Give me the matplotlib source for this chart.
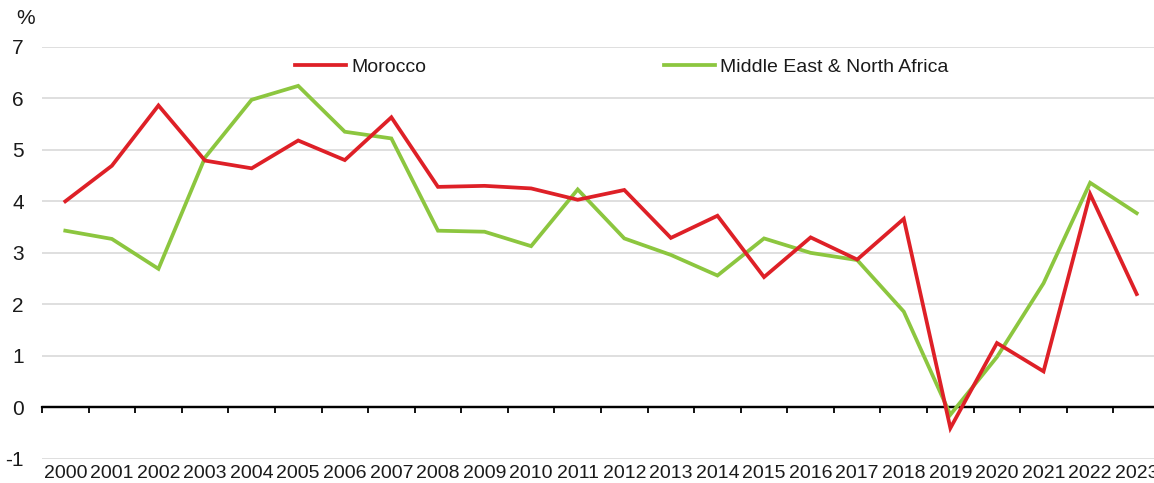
import matplotlib
matplotlib.use("Agg")
import matplotlib.pyplot as plt
import numpy as np

years = [str(y) for y in range(2000, 2024)]
morocco = [4.00, 4.69, 5.86, 4.79, 4.64, 5.18, 4.80, 5.63, 4.28, 4.30, 4.25, 4.03,
           4.22, 3.29, 3.72, 2.53, 3.30, 2.87, 3.66, -0.40, 1.25, 0.70, 4.14, 2.20]
mena = [3.43, 3.27, 2.69, 4.85, 5.97, 6.24, 5.35, 5.22, 3.43, 3.41, 3.13, 4.23,
        3.28, 2.96, 2.56, 3.28, 3.00, 2.86, 1.86, -0.14, 0.98, 2.41, 4.36, 3.77]
yticks = [-1, 0, 1, 2, 3, 4, 5, 6, 7]
series_names = ["Morocco", "Middle East & North Africa"]

plt.rcParams['font.family'] = ['Liberation Sans', 'DejaVu Sans']
txt = '#1a1a1a'
fs = 14
fsy = 15

W, H = 1154, 483
fig = plt.figure(figsize=(W / 100, H / 100), dpi=100)
left, right, top, bottom = 42, 1160, 46.7, 459
ax = fig.add_axes([left / W, 1 - bottom / H, (right - left) / W, (bottom - top) / H])

x = np.arange(len(years))
red = '#DE2027'
green = '#8CC63F'
l_mena, = ax.plot(x, mena, color=green, lw=2.7, solid_joinstyle='miter', zorder=3)
l_mor, = ax.plot(x, morocco, color=red, lw=2.7, solid_joinstyle='miter', zorder=4)

ax.set_xlim(-0.5, len(years) - 0.5)
ax.set_ylim(-1, 7)
ax.set_yticks(yticks)
ax.set_yticklabels([str(v) for v in yticks])
ax.yaxis.grid(True, color='#d9d9d9', lw=1.2)
ax.set_axisbelow(True)
for s in ax.spines.values():
    s.set_visible(False)
ax.tick_params(axis='y', length=0, pad=13, labelsize=fsy, labelcolor=txt)
ax.set_xticks(x)
ax.set_xticklabels(years)
ax.tick_params(axis='x', length=0, pad=4, labelsize=fs, labelcolor=txt)

# zero axis with boundary ticks
ax.axhline(0, color='black', lw=1.6, zorder=2)
loc0 = (0 - (-1)) / (7 - (-1))
sec = ax.secondary_xaxis(loc0)
sec.set_xticks(np.arange(len(years) + 1) - 0.5)
sec.tick_params(axis='x', direction='out', length=4, width=1.3, color='black', labelbottom=False)
sec.spines['bottom'].set_linewidth(1.6)
sec.spines['bottom'].set_color('black')

ly = (bottom - 67) / (bottom - top)
leg1 = ax.legend([l_mor], [series_names[0]], loc='center left',
                 bbox_to_anchor=((295 - left) / (right - left), ly),
                 frameon=False, fontsize=fs, handlelength=2.6, handletextpad=0.3,
                 borderpad=0, borderaxespad=0)
ax.add_artist(leg1)
leg2 = ax.legend([l_mena], [series_names[1]], loc='center left',
                 bbox_to_anchor=((664 - left) / (right - left), ly),
                 frameon=False, fontsize=fs, handlelength=2.6, handletextpad=0.3,
                 borderpad=0, borderaxespad=0)
for lg in (leg1, leg2):
    for t in lg.get_texts():
        t.set_color(txt)

fig.text(16 / W, 1 - 19 / H, '%', fontsize=fsy, color=txt, ha='left', va='center')

fig.savefig('out.png', dpi=100)
